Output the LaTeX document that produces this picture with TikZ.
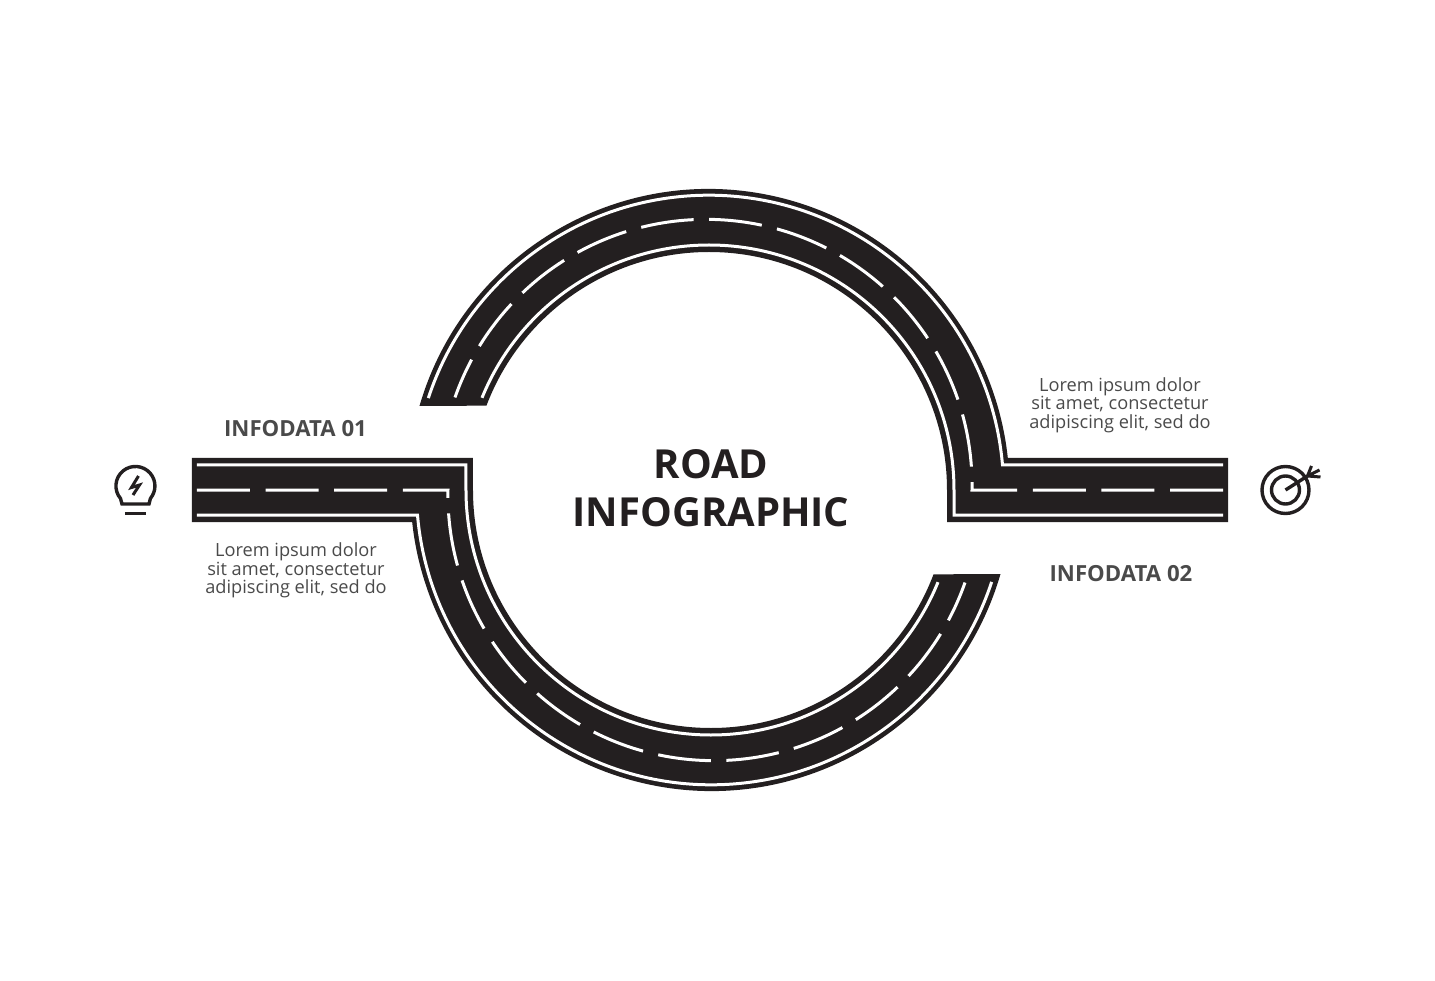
\documentclass[tikz,border=0pt]{standalone}
\usepackage{fontspec}
\setmainfont{Open Sans}
\definecolor{roadblack}{HTML}{231F20}
\definecolor{infogray}{HTML}{4A4A4A}
\begin{document}
\begin{tikzpicture} [x=1pt, y=1pt]
\tikzstyle{road}=[fill=roadblack];
\tikzstyle{edgeline}=[draw=white, line width=3pt];
\tikzstyle{midline}=[edgeline, dash pattern=on 53pt off 15.6pt];
\tikzstyle{icon}=[draw=roadblack, line width=3.4pt];
\tikzstyle{heading}=[text=infogray, font=\bfseries\fontsize{22.2}{26}\selectfont];
\tikzstyle{lorem}=[text=infogray, align=center, font=\fontsize{18.2}{18.5}\selectfont];
\useasboundingbox (-710,-490) rectangle (725,490);
\foreach \rot in {0,180} {
\begin{scope} [rotate=\rot]
\fill [road] (-290.5,84) arc (163.8:6.1:301) -- (518,32) -- (518,-32)
  -- (237,-32) -- (237,0) arc (0:159.24:238) -- cycle; % half ring with its straight arm
\draw [edgeline] (513,25) -- (292.5,25) arc (4.9:161.8:295);
\draw [edgeline] (513,-25) -- (244,-25) -- (244,0) arc (0:157.9:245);
\draw [midline] (513,0) -- (262,0) arc (-1:160.7:266);
\end{scope}
}
\node [text=roadblack, align=center, font=\bfseries\fontsize{40}{48}\selectfont] (title) at (1,2) {ROAD\\INFOGRAPHIC};
\node [heading] (infoa) at (-414.5,61) {INFODATA 01};
\node [heading] (infob) at (411,-83.5) {INFODATA 02};
\node [lorem] (lorema) at (-414,-80.5) {Lorem ipsum dolor\\sit amet, consectetur\\adipiscing elit, sed do};
\node [lorem] (loremb) at (410,85) {Lorem ipsum dolor\\sit amet, consectetur\\adipiscing elit, sed do};
\begin{scope} [shift={(-574.5,0)}] % bulb
\draw [icon] (-40:19.5) ++(0,4) -- (13.5,-14) -- (-13.5,-14) -- (-15,-8.5) arc (220:-40:19.5);
\draw [icon] (-10.5,-23.5) -- (10.5,-23.5);
\draw [icon, line width=3pt] (3,14) -- (-4,2.5) -- (4,5) -- (-2.5,-5);
\end{scope}
\begin{scope} [shift={(575.5,0)}] % target
\draw [icon] (0,0) circle (23.5);
\draw [icon] (0,0) circle (14);
\draw [icon] (0,0) -- (22,14);
\draw [icon, line width=3pt] (22,14) -- (26,24)
  (22,14) -- (34,20)
  (22,14) -- (35,13);
\end{scope}
\end{tikzpicture}
\end{document}
